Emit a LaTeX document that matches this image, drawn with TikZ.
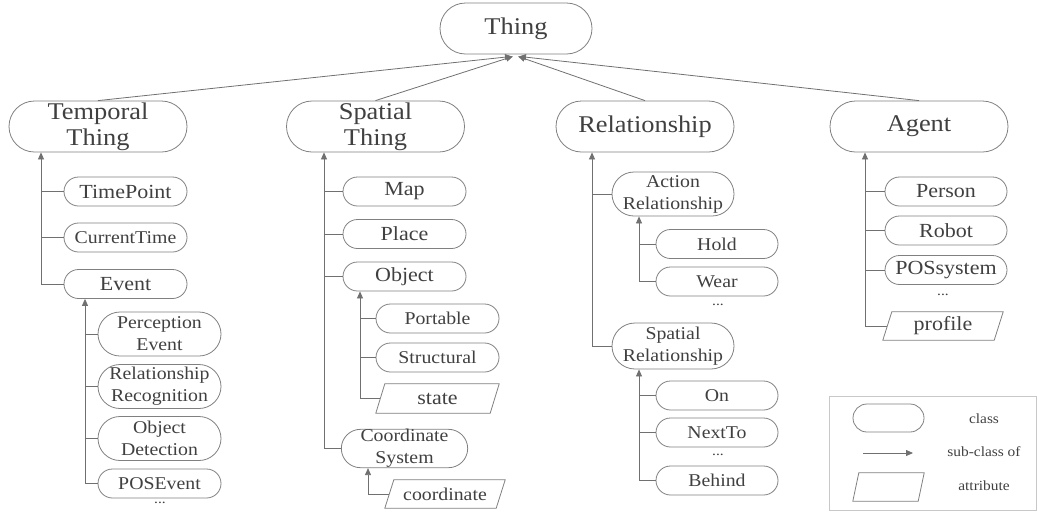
\documentclass[tikz,border=0pt]{standalone}
\usepackage{fontspec}
\setmainfont{Liberation Serif}[FakeStretch=1.1]
\usetikzlibrary{shapes.misc,arrows.meta,calc}
\definecolor{txtc}{HTML}{404040}
\definecolor{bordc}{HTML}{808080}
\definecolor{linec}{HTML}{707070}
\definecolor{legc}{HTML}{C8C8C8}
\newcommand\drawpara[2]{\draw[bordline] ([xshift=#2]#1.north west) -- (#1.north east) -- ([xshift=-#2]#1.south east) -- (#1.south west) -- cycle;}
\begin{document}
\begin{tikzpicture}[x=1pt,y=-1pt,
 bordline/.style={draw=bordc, line width=0.8pt},
 cls/.style={rounded rectangle, bordline, text=txtc, inner sep=0pt, align=center},
 big/.style={cls, minimum width=178pt, minimum height=51pt, font=\fontsize{24}{26}\selectfont},
 one/.style={cls, minimum width=123pt, minimum height=29pt, font=\fontsize{20}{22}\selectfont},
 onesm/.style={one, font=\fontsize{18}{21}\selectfont},
 two/.style={cls, minimum width=123pt, minimum height=44pt, font=\fontsize{18}{22}\selectfont},
 attr/.style={rectangle, draw=none, text=txtc, inner sep=0pt, minimum width=123pt, minimum height=29pt,
   font=\fontsize{20}{22}\selectfont},
 conn/.style={draw=linec, line width=0.8pt},
 arr/.style={conn, -{Triangle[length=7pt,width=6pt]}},
 dots/.style={text=txtc, font=\fontsize{14}{14}\selectfont, inner sep=0pt},
 legtxt/.style={text=txtc, font=\fontsize{14}{16}\selectfont, inner sep=0pt}
]
\useasboundingbox (0,0) rectangle (1038,512);

% top level
\node[big, minimum width=152pt] (Thing) at (516,28.5) {Thing};
\node[big] (Temporal) at (98,126.5) {Temporal\\Thing};
\node[big] (Spatial) at (375.5,126.5) {Spatial\\Thing};
\node[big] (Rel) at (645,126.5) {Relationship};
\node[big] (Agent) at (919,126.5) {Agent};

% temporal
\node[one] (TimePoint) at (125.5,191.5) {TimePoint};
\node[onesm] (CurrentTime) at (125.5,237.5) {CurrentTime};
\node[one] (Event) at (125.5,284) {Event};
\node[two] (Perc) at (159.5,334) {Perception\\Event};
\node[two] (RelRec) at (159.5,386.5) {Relationship\\Recognition};
\node[two] (ObjDet) at (159.5,438.5) {Object\\Detection};
\node[onesm] (POSEvent) at (159.5,483.5) {POSEvent};
\node[dots] (dotsE) at (160,503) {...};

% spatial
\node[one] (Map) at (404.5,191.5) {Map};
\node[one] (Place) at (404.5,234) {Place};
\node[one] (Object) at (404.5,276.5) {Object};
\node[onesm] (Portable) at (437.5,318.5) {Portable};
\node[onesm] (Structural) at (437.5,357.5) {Structural};
\node[attr] (state) at (437.5,398.5) {state};
\drawpara{state}{9pt}
\node[two, minimum height=37pt] (CoordSys) at (404.5,448.5) {Coordinate\\System};
\node[attr, minimum width=120pt, minimum height=28pt, font=\fontsize{18}{21}\selectfont] (coordinate) at (445,494) {coordinate};
\drawpara{coordinate}{9pt}

% relationship
\node[two, minimum width=122pt] (Action) at (673,194) {Action\\Relationship};
\node[onesm, minimum width=122pt] (Hold) at (717,244) {Hold};
\node[onesm, minimum width=122pt] (Wear) at (717,281.5) {Wear};
\node[dots] (dotsA) at (718,305) {...};
\node[two, minimum width=122pt, minimum height=46pt] (SpRel) at (673,346) {Spatial\\Relationship};
\node[onesm, minimum width=122pt] (On) at (717,395.5) {On};
\node[onesm, minimum width=122pt] (NextTo) at (717,432.5) {NextTo};
\node[dots] (dotsS) at (718,455) {...};
\node[onesm, minimum width=122pt] (Behind) at (717,480.5) {Behind};

% agent
\node[one, minimum width=122pt] (Person) at (946,191.5) {Person};
\node[one, minimum width=122pt] (Robot) at (946,230.5) {Robot};
\node[one, minimum width=122pt] (POSsys) at (946,270) {POSsystem};
\node[dots] (dotsG) at (943,295) {...};
\node[attr, minimum width=120pt, minimum height=28pt] (profile) at (943,326) {profile};
\drawpara{profile}{9pt}

% legend
\node[draw=legc, line width=1pt, minimum width=207pt, minimum height=114pt, inner sep=0pt] (legend) at (932.5,453) {};
\node[cls, minimum width=71pt, minimum height=28pt] (legcls) at (888.5,418) {};
\coordinate (la1) at (863,453);
\coordinate (la2) at (913,453);
\draw[arr] (la1) -- (la2);
\node[attr, minimum width=71pt, minimum height=28pt] (legattr) at (888.5,487) {};
\drawpara{legattr}{6pt}
\node[legtxt] (lt1) at (984,419) {class};
\node[legtxt] (lt2) at (984,452) {sub-class of};
\node[legtxt] (lt3) at (984,486) {attribute};

% connectors to Thing
\draw[arr] (Temporal.north) -- ([xshift=-4pt,yshift=-2pt]Thing.south);
\draw[arr] (Spatial.north) -- ([xshift=-3pt,yshift=-2pt]Thing.south);
\draw[arr] (Rel.north) -- ([xshift=2pt,yshift=-2pt]Thing.south);
\draw[arr] (Agent.north) -- ([xshift=3pt,yshift=-2pt]Thing.south);

% temporal trunk
\coordinate (T1) at ([xshift=-57pt]Temporal.south);
\draw[conn] (TimePoint.west) -- (TimePoint.west -| T1);
\draw[conn] (CurrentTime.west) -- (CurrentTime.west -| T1);
\draw[arr] (Event.west) -| (T1);
\coordinate (E1) at ([xshift=-40.5pt]Event.south);
\draw[conn] (Perc.west) -- (Perc.west -| E1);
\draw[conn] (RelRec.west) -- (RelRec.west -| E1);
\draw[conn] (ObjDet.west) -- (ObjDet.west -| E1);
\draw[arr] (POSEvent.west) -| (E1);

% spatial trunk
\coordinate (S1) at ([xshift=-51.5pt]Spatial.south);
\draw[conn] (Map.west) -- (Map.west -| S1);
\draw[conn] (Place.west) -- (Place.west -| S1);
\draw[conn] (Object.west) -- (Object.west -| S1);
\draw[arr] (CoordSys.west) -| (S1);
\coordinate (O1) at ([xshift=-44.5pt]Object.south);
\draw[conn] (Portable.west) -- (Portable.west -| O1);
\draw[conn] (Structural.west) -- (Structural.west -| O1);
\draw[arr] ([xshift=4.5pt]state.west) -| (O1);
\coordinate (C1) at ([xshift=-36.5pt]CoordSys.south);
\draw[arr] ([xshift=4.5pt]coordinate.west) -| (C1);

% relationship trunk
\coordinate (R1) at ([xshift=-53pt]Rel.south);
\draw[conn] (Action.west) -- (Action.west -| R1);
\draw[arr] (SpRel.west) -| (R1);
\coordinate (A1) at ([xshift=-34pt]Action.south);
\draw[conn] (Hold.west) -- (Hold.west -| A1);
\draw[arr] (Wear.west) -| (A1);
\coordinate (SR1) at ([xshift=-34pt]SpRel.south);
\draw[conn] (On.west) -- (On.west -| SR1);
\draw[conn] (NextTo.west) -- (NextTo.west -| SR1);
\draw[arr] (Behind.west) -| (SR1);

% agent trunk
\coordinate (G1) at ([xshift=-54pt]Agent.south);
\draw[conn] (Person.west) -- (Person.west -| G1);
\draw[conn] (Robot.west) -- (Robot.west -| G1);
\draw[conn] (POSsys.west) -- (POSsys.west -| G1);
\draw[arr] ([xshift=4.5pt]profile.west) -| (G1);
\end{tikzpicture}
\end{document}
